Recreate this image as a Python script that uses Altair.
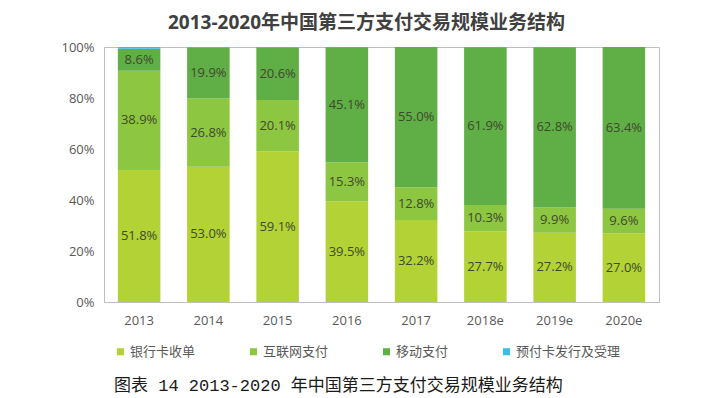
import altair as alt
import pandas as pd

years = ["2013", "2014", "2015", "2016", "2017", "2018e", "2019e", "2020e"]
series = ["银行卡收单", "互联网支付", "移动支付", "预付卡发行及受理"]
bank_card = [51.8, 53.0, 59.1, 39.5, 32.2, 27.7, 27.2, 27.0]
internet = [38.9, 26.8, 20.1, 15.3, 12.8, 10.3, 9.9, 9.6]
mobile = [8.6, 19.9, 20.6, 45.1, 55.0, 61.9, 62.8, 63.4]
prepaid = [0.7, 0.3, 0.2, 0.1, 0.0, 0.1, 0.1, 0.0]
colors = ["#B3D235", "#8DC640", "#5FAE46", "#38BEE8"]

title_text = "2013-2020年中国第三方支付交易规模业务结构"
caption_text = "图表 14 2013-2020 年中国第三方支付交易规模业务结构"

rows = []
for si, (name, vals) in enumerate(zip(series, [bank_card, internet, mobile, prepaid])):
    for y, v in zip(years, vals):
        rows.append({"year": y, "series": name, "value": v, "order": si})
df = pd.DataFrame(rows)

FONT = "Open Sans, Noto Sans CJK SC"

base = alt.Chart(df).transform_stack(
    stack="value", groupby=["year"], sort=[alt.SortField("order")], as_=["y0", "y1"]
).transform_calculate(
    mid="(datum.y0 + datum.y1) / 2",
    label="format(datum.value, '.1f') + '%'",
)

x_enc = alt.X(
    "year:N",
    sort=years,
    title=None,
    scale=alt.Scale(paddingInner=0.386, paddingOuter=0.2),
    axis=alt.Axis(
        labelAngle=0, labelFont=FONT, labelFontSize=13, labelColor="#595959",
        domain=False, ticks=False, labelPadding=12,
    ),
)

bars = base.mark_bar().encode(
    x=x_enc,
    y=alt.Y(
        "y0:Q",
        scale=alt.Scale(domain=[0, 100]),
        title=None,
        axis=alt.Axis(
            values=[0, 20, 40, 60, 80, 100], labelExpr="datum.value + '%'",
            labelFont=FONT, labelFontSize=13, labelColor="#595959",
            domain=False, ticks=False, grid=False, labelPadding=10,
        ),
    ),
    y2="y1:Q",
    color=alt.Color(
        "series:N",
        sort=series,
        scale=alt.Scale(domain=series, range=colors),
        legend=alt.Legend(
            title=None, orient="none", direction="horizontal",
            legendX=10, legendY=298, symbolType="square", symbolSize=50,
            symbolStrokeWidth=0, labelFont=FONT, labelFontSize=13,
            labelColor="#595959", columnPadding=51, labelOffset=3,
        ),
    ),
)

labels = base.transform_filter(
    alt.datum.order < 3
).mark_text(font=FONT, fontSize=13, color="#3F4A2C").encode(
    x=alt.X("year:N", sort=years),
    y=alt.Y("mid:Q"),
    text="label:N",
)

caption = alt.Chart(pd.DataFrame({"t": [caption_text]})).mark_text(
    font="Liberation Mono, Noto Sans CJK SC", fontSize=17, color="#1A1A1A",
    align="left", baseline="middle",
).encode(x=alt.value(10), y=alt.value(339), text="t:N")

chart = alt.layer(bars, labels, caption).properties(
    width=555,
    height=255,
    autosize=alt.AutoSizeParams(type="none"),
    padding={"left": 96, "top": 39, "right": 40, "bottom": 98},
    title=alt.TitleParams(
        title_text, font=FONT, fontSize=19, fontWeight="bold", color="#404040",
        anchor="middle", dx=-15, offset=8,
    ),
).configure_view(stroke="#BFBFBF", strokeWidth=1)

chart.save("out.html", embed_options={"renderer": "svg", "actions": False})
